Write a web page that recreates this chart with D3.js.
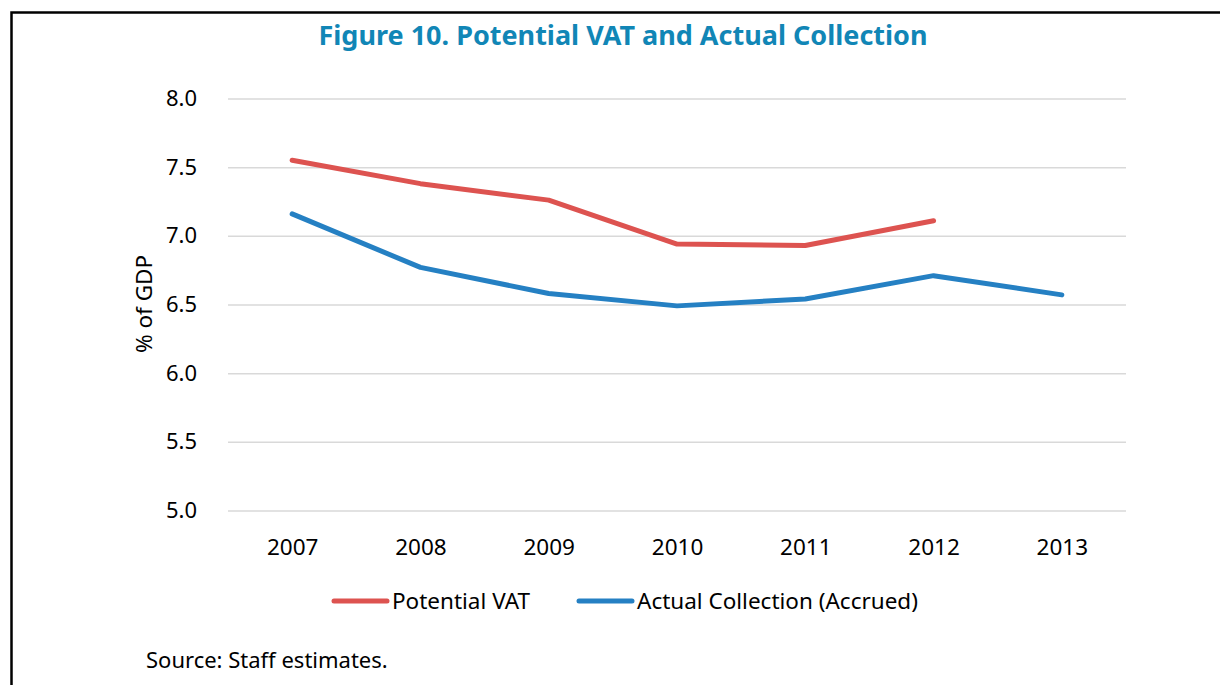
<html>
<head>
<meta charset="utf8">
</head>
<body style="margin:0;background:#fff">
<div id="canvas"></div>
<script src="https://cdn.jsdelivr.net/npm/d3@7"></script>
<script>
const years = ['2007','2008','2009','2010','2011','2012','2013'];
const potentialVat = [7.55, 7.38, 7.26, 6.94, 6.93, 7.11, null];
const actualCollection = [7.16, 6.77, 6.58, 6.49, 6.54, 6.71, 6.57];
const yTicks = [5.0, 5.5, 6.0, 6.5, 7.0, 7.5, 8.0];
const seriesNames = ['Potential VAT', 'Actual Collection (Accrued)'];
const seriesColors = ['#dd5350', '#2580c3'];

const W = 1220, H = 685;
const font = "'Noto Sans', 'Open Sans', sans-serif";

const svg = d3.select("#canvas").append("svg")
    .attr("width", W)
    .attr("height", H)
    .attr("viewBox", `0 0 ${W} ${H}`)
    .style("display", "block");

// frame
svg.append("path")
    .attr("d", `M11.5,${H + 5} L11.5,12.5 L${W + 5},12.5`)
    .attr("fill", "none")
    .attr("stroke", "#000")
    .attr("stroke-width", 2.5);

const x = d3.scalePoint()
    .domain(years)
    .range([228, 1126])
    .padding(0.5);

const y = d3.scaleLinear()
    .domain([5, 8])
    .range([510.5, 98.5]);

// title
svg.append("text")
    .attr("x", 623)
    .attr("y", 45)
    .attr("text-anchor", "middle")
    .attr("font-family", font)
    .attr("font-weight", "bold")
    .attr("font-size", "27px")
    .attr("fill", "#1186b6")
    .text("Figure 10. Potential VAT and Actual Collection");

// gridlines + y labels
const yAxis = svg.append("g")
    .attr("transform", "translate(228,0)")
    .call(d3.axisLeft(y).tickValues(yTicks).tickFormat(d3.format(".1f"))
        .tickSize(-(1126 - 228)).tickPadding(31));
yAxis.select(".domain").remove();
yAxis.selectAll(".tick line").attr("stroke", "#d9d9d9").attr("stroke-width", 1.5);
yAxis.selectAll(".tick text")
    .attr("font-family", font)
    .attr("font-size", "22px")
    .attr("fill", "#000");

// x labels
const xAxis = svg.append("g")
    .attr("transform", "translate(0,510.5)")
    .call(d3.axisBottom(x).tickSize(0).tickPadding(0));
xAxis.select(".domain").remove();
xAxis.selectAll(".tick text")
    .attr("dy", null)
    .attr("y", 44)
    .attr("font-family", font)
    .attr("font-size", "22.5px")
    .attr("fill", "#000");

// y title
svg.append("text")
    .attr("transform", "translate(152,304) rotate(-90)")
    .attr("text-anchor", "middle")
    .attr("font-family", font)
    .attr("font-size", "22.5px")
    .attr("fill", "#000")
    .text("% of GDP");

// lines
const line = d3.line()
    .defined(d => d[1] != null)
    .x(d => x(d[0]))
    .y(d => y(d[1]));

[potentialVat, actualCollection].forEach((vals, i) => {
    svg.append("path")
        .datum(years.map((yr, j) => [yr, vals[j]]))
        .attr("fill", "none")
        .attr("stroke", seriesColors[i])
        .attr("stroke-width", 5)
        .attr("stroke-linecap", "round")
        .attr("stroke-linejoin", "round")
        .attr("d", line);
});

// legend
const legendX = [334, 579];
seriesNames.forEach((name, i) => {
    const g = svg.append("g").attr("transform", `translate(${legendX[i]},601)`);
    g.append("line")
        .attr("x1", 0).attr("x2", 53)
        .attr("stroke", seriesColors[i])
        .attr("stroke-width", 5)
        .attr("stroke-linecap", "round");
    g.append("text")
        .attr("x", 58)
        .attr("y", 8)
        .attr("font-family", font)
        .attr("font-size", "22.5px")
        .attr("fill", "#000")
        .text(name);
});

// source
svg.append("text")
    .attr("x", 146)
    .attr("y", 668)
    .attr("font-family", font)
    .attr("font-size", "22px")
    .attr("fill", "#000")
    .text("Source: Staff estimates.");
</script>
</body>
</html>
